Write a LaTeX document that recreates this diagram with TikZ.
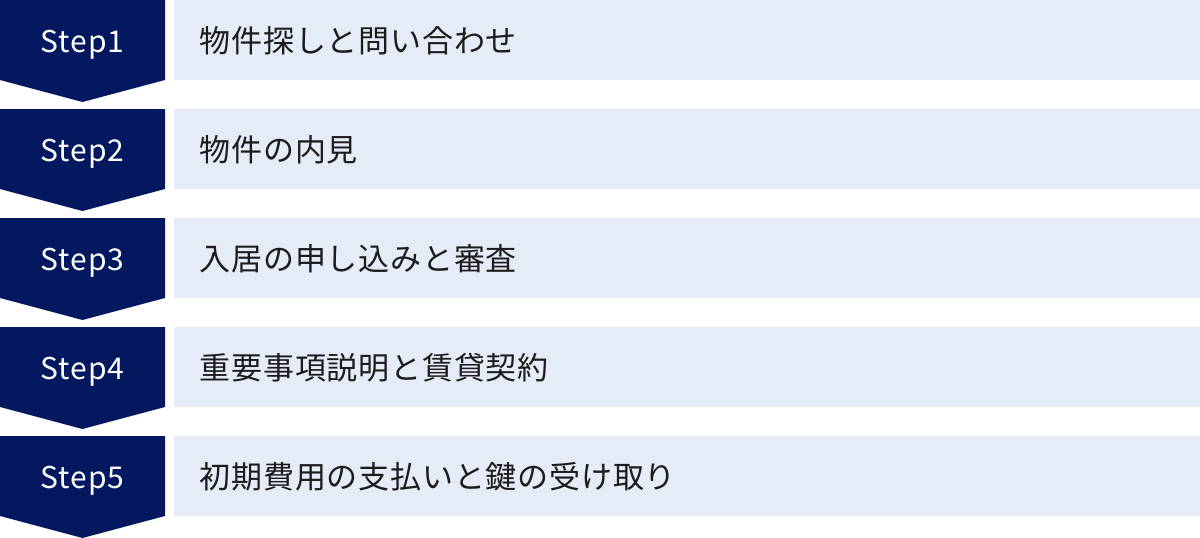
\documentclass[tikz,border=0pt]{standalone}
\usepackage{fontspec}
\newfontfamily\jpfont[LetterSpace=2.6]{Noto Sans CJK JP}
\newfontfamily\stepfont[LetterSpace=3.5]{Noto Sans CJK JP}
\definecolor{navy}{HTML}{03185F}
\definecolor{pale}{HTML}{E6EBF8}
\definecolor{ink}{HTML}{1C1C1C}
\tikzset{
  chevron/.style={fill=navy, draw=none},
  bar/.style={fill=pale, draw=none},
  steplabel/.style={text=white, inner sep=0pt, anchor=base, font=\stepfont\fontsize{30}{34}\selectfont},
  title/.style={text=ink, inner sep=0pt, anchor=west, font=\jpfont\fontsize{31}{36}\selectfont}
}
\begin{document}
\begin{tikzpicture}[x=1pt,y=-1pt]
\useasboundingbox (0,0) rectangle (1200,538);
\foreach \i/\t in {1/物件探しと問い合わせ,2/物件の内見,3/入居の申し込みと審査,4/重要事項説明と賃貸契約,5/初期費用の支払いと鍵の受け取り}{
  \pgfmathsetmacro\top{(\i-1)*109}
  \fill[chevron] (0,\top) -- (165,\top) -- (165,\top+80) -- (82.5,\top+102) -- (0,\top+80) -- cycle;
  \fill[bar] (174,\top) rectangle (1200,\top+80);
  \node[steplabel] (s\i) at (82.5,\top+52.5) {Step\i};
  \node[title] (t\i) at (199.5,\top+41) {\t};
}
\end{tikzpicture}
\end{document}
